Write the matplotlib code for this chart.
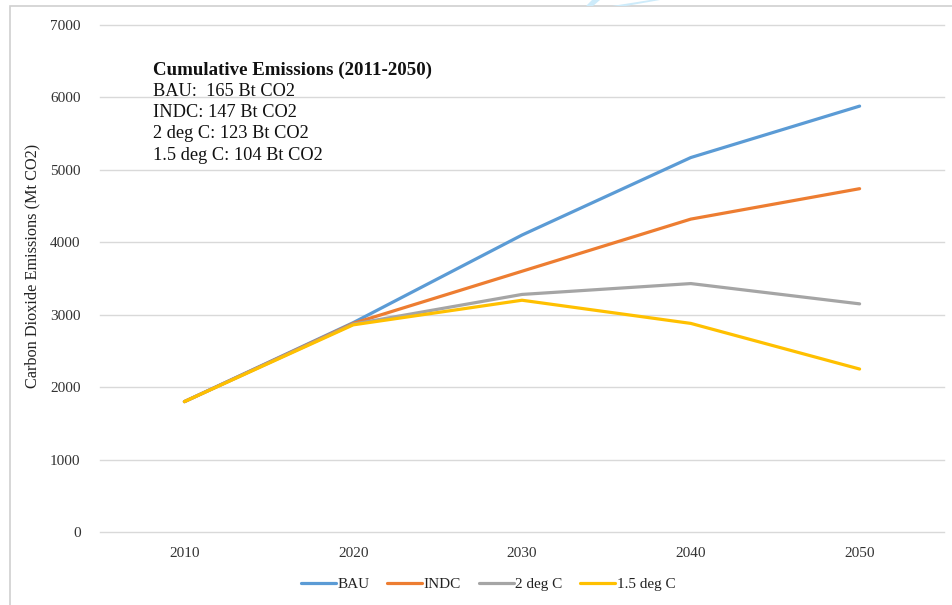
import matplotlib
matplotlib.use("Agg")
import matplotlib.pyplot as plt
from matplotlib.patches import Polygon, Rectangle

years = ["2010", "2020", "2030", "2040", "2050"]
bau = [1800, 2890, 4100, 5170, 5880]
indc = [1800, 2880, 3600, 4320, 4740]
deg2 = [1800, 2870, 3280, 3430, 3150]
deg15 = [1800, 2860, 3200, 2880, 2250]

series_names = ["BAU", "INDC", "2 deg C", "1.5 deg C"]
series_values = [bau, indc, deg2, deg15]
series_colors = ["#5B9BD5", "#ED7D31", "#A5A5A5", "#FFC000"]

y_ticks = [0, 1000, 2000, 3000, 4000, 5000, 6000, 7000]

note_title = "Cumulative Emissions (2011-2050)"
note_lines = ["BAU:  165 Bt CO2", "INDC: 147 Bt CO2",
              "2 deg C: 123 Bt CO2", "1.5 deg C: 104 Bt CO2"]

plt.rcParams["font.family"] = ["Liberation Serif", "DejaVu Serif"]

W, H = 952, 605
fig = plt.figure(figsize=(W / 100, H / 100), dpi=100)

# chart frame
fig.patches.append(Rectangle((10 / W, -0.1), 1.2, (H - 6) / H + 0.1,
                             transform=fig.transFigure, fill=False,
                             edgecolor="#D0D0D0", linewidth=1.2))
# faint blue stroke at the top edge
fig.patches.append(Polygon([(592 / W, 1.0), (600 / W, 1.0), (593 / W, (H - 6) / H),
                            (586 / W, (H - 6) / H)],
                           closed=True, transform=fig.transFigure,
                           facecolor="#CDEBFA", edgecolor="none"))
fig.patches.append(Polygon([(612 / W, (H - 6) / H), (650 / W, 1.0), (660 / W, 1.0),
                            (626 / W, (H - 6) / H)],
                           closed=True, transform=fig.transFigure,
                           facecolor="#CDEBFA", edgecolor="none"))

left, right = 100 / W, 944 / W
bottom, top = 1 - 532 / H, 1 - 25 / H
ax = fig.add_axes([left, bottom, right - left, top - bottom])

x = list(range(len(years)))
for name, vals, col in zip(series_names, series_values, series_colors):
    ax.plot(x, vals, color=col, linewidth=2.3, label=name,
            solid_capstyle="round", solid_joinstyle="round")

ax.set_xlim(-0.5, len(years) - 0.5)
ax.set_ylim(0, 7000)
ax.set_yticks(y_ticks)
ax.set_yticklabels([str(v) for v in y_ticks])
ax.set_xticks(x)
ax.set_xticklabels(years)
ax.grid(axis="y", color="#D9D9D9", linewidth=1.0)
for gl in ax.yaxis.get_gridlines():
    gl.set_clip_on(False)
ax.set_axisbelow(True)
for s in ax.spines.values():
    s.set_visible(False)
ax.tick_params(axis="both", length=0, labelsize=11, colors="#333333")
ax.tick_params(axis="y", pad=14)
ax.tick_params(axis="x", pad=11)

fig.text(32 / W, 1 - 266 / H, "Carbon Dioxide Emissions (Mt CO2)",
         rotation=90, ha="center", va="center", fontsize=11.7, color="#222222")

fig.text(153 / W, 1 - 70 / H, note_title, ha="left", va="center",
         fontsize=13.6, fontweight="bold", color="#111111")
for i, line in enumerate(note_lines):
    fig.text(153 / W, 1 - (91 + 21.5 * i) / H, line, ha="left", va="center",
             fontsize=13.2, color="#111111")

leg = fig.legend(loc="center", bbox_to_anchor=(488 / W, 1 - 584 / H), ncol=4,
                 frameon=False, fontsize=11, handlelength=2.3,
                 handletextpad=0.1, columnspacing=1.15)
for t in leg.get_texts():
    t.set_color("#222222")

fig.savefig("out.png", dpi=100)
